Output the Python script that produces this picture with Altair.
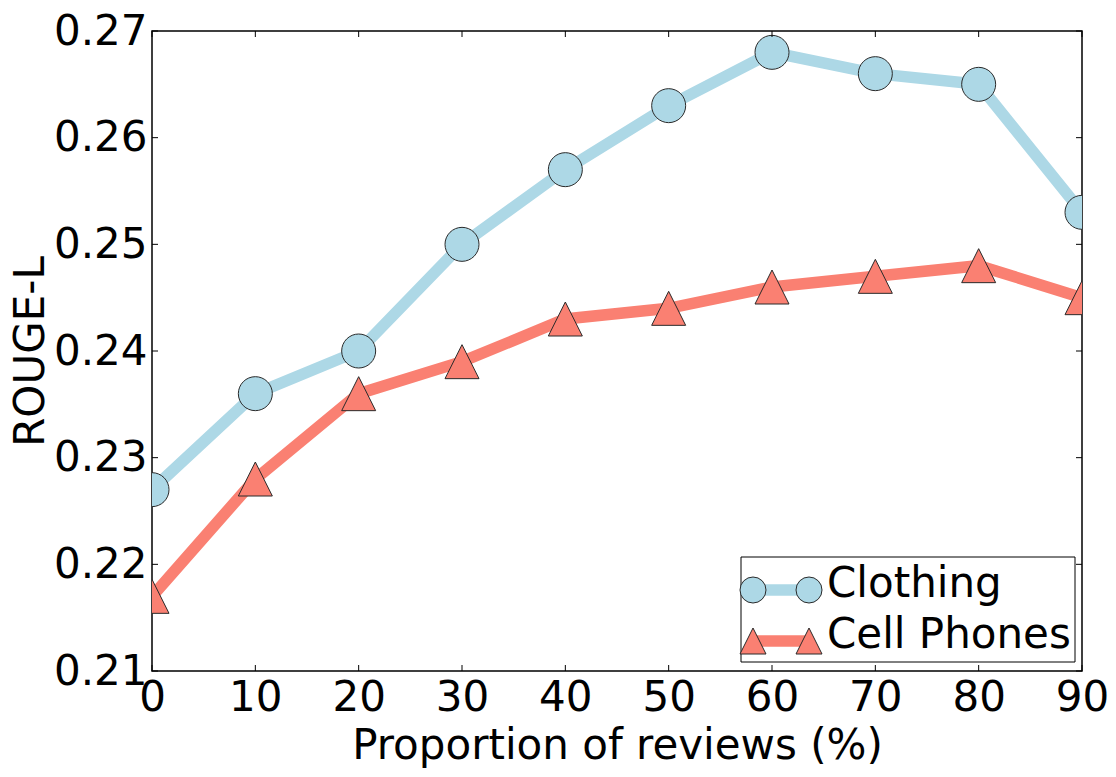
import altair as alt
import pandas as pd

# ---- data ----
proportion = [0, 10, 20, 30, 40, 50, 60, 70, 80, 90]
clothing = [0.227, 0.236, 0.240, 0.250, 0.257, 0.263, 0.268, 0.266, 0.265, 0.253]
cell_phones = [0.217, 0.228, 0.236, 0.239, 0.243, 0.244, 0.246, 0.247, 0.248, 0.245]
x_ticks = [0, 10, 20, 30, 40, 50, 60, 70, 80, 90]
y_ticks = [0.21, 0.22, 0.23, 0.24, 0.25, 0.26, 0.27]
series_names = ["Clothing", "Cell Phones"]
series_colors = ["#ADD8E6", "#FA8072"]

FONT = "DejaVu Sans"
FS = 42
LW = 11.5
W, H = 930, 640
TRI = "M0,-1L-1,1L1,1Z"
EDGE = "#2a2a2a"

xs = alt.Scale(domain=[0, 90], nice=False, zero=False)
ys = alt.Scale(domain=[0.21, 0.27], nice=False, zero=False)

df_c = pd.DataFrame({"x": proportion, "y": clothing})
df_p = pd.DataFrame({"x": proportion, "y": cell_phones})
df_xt = pd.DataFrame({"x": x_ticks})
df_yt = pd.DataFrame({"y": y_ticks})
one = pd.DataFrame({"k": [0]})

x_axis = alt.Axis(
    values=x_ticks, title="Proportion of reviews (%)", grid=False, domain=False,
    ticks=False, tickSize=0, labelFont=FONT, labelFontSize=FS, labelColor="black",
    labelBaseline="alphabetic", labelPadding=39, labelFlush=False, labelOverlap=False,
    titleFont=FONT, titleFontSize=FS, titleFontWeight="normal", titleColor="black",
    titleBaseline="alphabetic", titleY=87,
)
y_axis = alt.Axis(
    values=y_ticks, format=".2f", title="ROUGE-L", grid=False, domain=False,
    ticks=False, tickSize=0, labelFont=FONT, labelFontSize=FS, labelColor="black",
    labelBaseline="middle", labelPadding=5, labelFlush=False, labelOverlap=False,
    titleFont=FONT, titleFontSize=FS, titleFontWeight="normal", titleColor="black",
    titleBaseline="alphabetic", titleX=-109, titleAngle=-90,
)

X = alt.X("x:Q", scale=xs, axis=x_axis)
Y = alt.Y("y:Q", scale=ys, axis=y_axis)

line_c = alt.Chart(df_c).mark_line(color=series_colors[0], strokeWidth=LW, clip=True).encode(x=X, y=Y)
pts_c = alt.Chart(df_c).mark_point(
    shape="circle", size=1156, filled=True, fill=series_colors[0], stroke=EDGE,
    strokeWidth=1, opacity=1, clip=True).encode(x=X, y=Y)
line_p = alt.Chart(df_p).mark_line(color=series_colors[1], strokeWidth=LW, clip=True).encode(x=X, y=Y)
pts_p = alt.Chart(df_p).mark_point(
    shape=TRI, size=1156, filled=True, fill=series_colors[1], stroke=EDGE,
    strokeWidth=1, opacity=1, clip=True).encode(x=X, y=Y)

# inward ticks on all four sides
tick_top = alt.Chart(df_xt).mark_rule(color="black", strokeWidth=1).encode(x=X, y=alt.value(0), y2=alt.value(6))
tick_bot = alt.Chart(df_xt).mark_rule(color="black", strokeWidth=1).encode(x=X, y=alt.value(H), y2=alt.value(H - 6))
tick_left = alt.Chart(df_yt).mark_rule(color="black", strokeWidth=1).encode(y=Y, x=alt.value(0), x2=alt.value(6))
tick_right = alt.Chart(df_yt).mark_rule(color="black", strokeWidth=1).encode(y=Y, x=alt.value(W), x2=alt.value(W - 6))

# legend box
leg_box = alt.Chart(one).mark_rect(fill="white", stroke="black", strokeWidth=1).encode(
    x=alt.value(589), x2=alt.value(923), y=alt.value(526), y2=alt.value(631))

def legend_entry(name, color, shape, ymid):
    ln = alt.Chart(one).mark_rule(color=color, strokeWidth=LW).encode(
        x=alt.value(601), x2=alt.value(657), y=alt.value(ymid))
    m1 = alt.Chart(one).mark_point(shape=shape, size=676, filled=True, fill=color,
                                   stroke=EDGE, strokeWidth=1, opacity=1).encode(
        x=alt.value(601), y=alt.value(ymid))
    m2 = alt.Chart(one).mark_point(shape=shape, size=676, filled=True, fill=color,
                                   stroke=EDGE, strokeWidth=1, opacity=1).encode(
        x=alt.value(657), y=alt.value(ymid))
    tx_ = alt.Chart(one).mark_text(align="left", baseline="alphabetic", font=FONT,
                                   fontSize=FS, color="black", text=name).encode(
        x=alt.value(675), y=alt.value(ymid + 7))
    return [ln, m1, m2, tx_]

leg = [leg_box] + legend_entry(series_names[0], series_colors[0], "circle", 559) \
    + legend_entry(series_names[1], series_colors[1], TRI, 610)

chart = alt.layer(
    line_c, pts_c, line_p, pts_p, tick_top, tick_bot, tick_left, tick_right, *leg
).properties(
    width=W, height=H,
    autosize=alt.AutoSizeParams(type="none"),
    padding={"left": 144, "top": 23, "right": 26, "bottom": 98},
    background="white",
).configure_view(stroke="black", strokeWidth=1.5)

chart.save("out.html", embed_options={"renderer": "svg", "actions": False})
